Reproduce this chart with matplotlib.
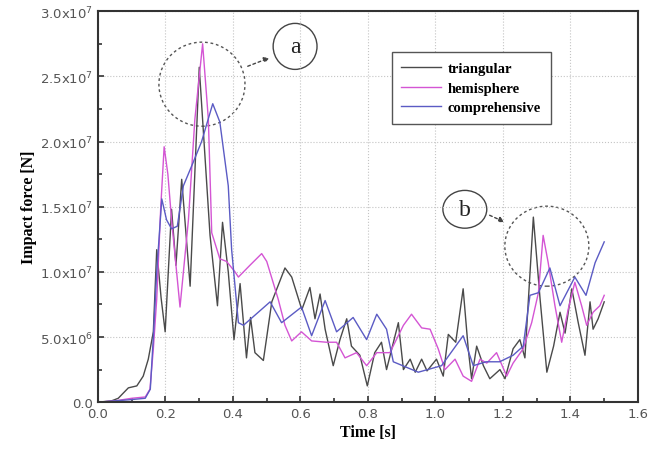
import matplotlib
matplotlib.use("Agg")
import matplotlib.pyplot as plt
from matplotlib.patches import Ellipse
from matplotlib.ticker import MultipleLocator, FuncFormatter

# triangular (gray)
t_tri = [0.0, 0.04, 0.06, 0.09, 0.115, 0.134, 0.149, 0.164, 0.174, 0.187, 0.199, 0.218, 0.231, 0.248,
         0.273, 0.300, 0.332, 0.354, 0.369, 0.386, 0.403, 0.421, 0.44, 0.452, 0.465, 0.49, 0.515,
         0.554, 0.574, 0.604, 0.628, 0.643, 0.658, 0.673, 0.697, 0.717, 0.737, 0.751, 0.776, 0.798,
         0.82, 0.84, 0.855, 0.89, 0.905, 0.925, 0.94, 0.959, 0.975, 1.003, 1.023, 1.038, 1.06, 1.082,
         1.097, 1.107, 1.122, 1.142, 1.161, 1.191, 1.206, 1.23, 1.25, 1.265, 1.29, 1.31, 1.33, 1.35,
         1.369, 1.384, 1.404, 1.423, 1.443, 1.458, 1.467, 1.482, 1.50]
f_tri = [0.0, 0.01, 0.03, 0.11, 0.125, 0.2, 0.33, 0.54, 1.17, 0.8, 0.54, 1.48, 1.05, 1.71,
         0.89, 2.57, 1.28, 0.74, 1.38, 1.0, 0.48, 0.91, 0.34, 0.65, 0.38, 0.32, 0.77,
         1.03, 0.96, 0.71, 0.88, 0.64, 0.83, 0.56, 0.28, 0.48, 0.64, 0.43, 0.36, 0.125,
         0.38, 0.46, 0.25, 0.61, 0.25, 0.33, 0.23, 0.33, 0.24, 0.33, 0.2, 0.52, 0.46, 0.87,
         0.41, 0.18, 0.43, 0.28, 0.18, 0.25, 0.18, 0.41, 0.48, 0.34, 1.42, 0.79, 0.23, 0.43,
         0.69, 0.53, 0.87, 0.61, 0.36, 0.77, 0.56, 0.64, 0.77]

# hemisphere (magenta)
t_hem = [0.0, 0.05, 0.1, 0.14, 0.154, 0.164, 0.174, 0.186, 0.196, 0.207, 0.218, 0.243, 0.268, 0.287,
         0.310, 0.327, 0.337, 0.361, 0.381, 0.406, 0.416, 0.45, 0.485, 0.5, 0.534, 0.554, 0.574,
         0.603, 0.633, 0.677, 0.707, 0.732, 0.766, 0.796, 0.826, 0.865, 0.905, 0.929, 0.959, 0.984,
         1.008, 1.028, 1.058, 1.082, 1.107, 1.132, 1.152, 1.181, 1.211, 1.23, 1.26, 1.285, 1.305,
         1.319, 1.334, 1.354, 1.374, 1.393, 1.413, 1.433, 1.448, 1.467, 1.487, 1.50]
f_hem = [0.0, 0.01, 0.03, 0.04, 0.1, 0.41, 0.79, 1.5, 1.96, 1.75, 1.40, 0.73, 1.40, 2.17,
         2.75, 2.17, 1.30, 1.10, 1.08, 1.0, 0.96, 1.05, 1.14, 1.08, 0.79, 0.59, 0.47,
         0.54, 0.47, 0.46, 0.46, 0.34, 0.38, 0.28, 0.38, 0.38, 0.59, 0.675, 0.57, 0.56,
         0.41, 0.25, 0.33, 0.2, 0.16, 0.33, 0.30, 0.38, 0.2, 0.30, 0.41, 0.61, 0.84,
         1.28, 1.07, 0.74, 0.46, 0.71, 0.92, 0.74, 0.59, 0.69, 0.74, 0.82]

# comprehensive (blue)
t_com = [0.0, 0.05, 0.1, 0.14, 0.155, 0.164, 0.174, 0.189, 0.203, 0.218, 0.235, 0.253, 0.282, 0.307,
         0.340, 0.361, 0.386, 0.396, 0.416, 0.431, 0.51, 0.544, 0.603, 0.633, 0.673, 0.707, 0.756,
         0.796, 0.826, 0.855, 0.875, 0.949, 1.018, 1.082, 1.112, 1.15, 1.19, 1.23, 1.26, 1.28, 1.305,
         1.339, 1.369, 1.413, 1.446, 1.473, 1.50]
f_com = [0.0, 0.01, 0.02, 0.03, 0.1, 0.5, 1.0, 1.56, 1.4, 1.33, 1.35, 1.66, 1.84, 2.0,
         2.29, 2.15, 1.66, 1.17, 0.61, 0.59, 0.77, 0.61, 0.73, 0.51, 0.78, 0.54, 0.65,
         0.48, 0.675, 0.56, 0.31, 0.23, 0.28, 0.51, 0.28, 0.31, 0.31, 0.36, 0.43, 0.82, 0.84,
         1.03, 0.74, 0.96, 0.82, 1.07, 1.23]

labels = ["triangular", "hemisphere", "comprehensive"]
colors = ["#4a4a4a", "#d455d4", "#5b5bc4"]

fig = plt.figure(figsize=(6.49, 4.52), dpi=100)
ax = fig.add_axes([0.151, 0.108, 0.832, 0.865])

for t, f, lab, c in zip([t_tri, t_hem, t_com], [f_tri, f_hem, f_com], labels, colors):
    ax.plot(t, [v * 1e7 for v in f], color=c, lw=1.0, label=lab)

ax.set_xlim(0, 1.6)
ax.set_ylim(0, 3.0e7)
ax.xaxis.set_major_locator(MultipleLocator(0.2))
ax.xaxis.set_minor_locator(MultipleLocator(0.1))
ax.yaxis.set_major_locator(MultipleLocator(0.5e7))
ax.yaxis.set_minor_locator(MultipleLocator(0.25e7))

def yfmt(v, pos):
    if v == 0:
        return "0.0"
    e = 7 if v >= 1e7 else 6
    return r"$\mathregular{%.1fx10^{%d}}$" % (v / 10**e, e)

ax.yaxis.set_major_formatter(FuncFormatter(yfmt))
ax.xaxis.set_major_formatter(FuncFormatter(lambda v, p: "%.1f" % v))
ax.tick_params(which="both", direction="in", colors="#333333", labelcolor="#555555",
               labelsize=9.5, width=1.2)
ax.tick_params(which="major", length=4)
ax.tick_params(which="minor", length=3)
ax.grid(True, which="major", linestyle=":", color="#c4c4c4", lw=0.8)
for s in ax.spines.values():
    s.set_color("#333333")
    s.set_linewidth(1.5)

ax.set_xlabel("Time [s]", family="Liberation Serif", fontweight="bold", fontsize=11.5, labelpad=3)
ax.set_ylabel("Impact force [N]", family="Liberation Serif", fontweight="bold", fontsize=11.5, labelpad=2)

leg = ax.legend(loc="upper left", bbox_to_anchor=(0.544, 0.895), borderaxespad=0,
                prop={"family": "Liberation Serif", "weight": "bold", "size": 10.5},
                handlelength=2.7, fancybox=False, edgecolor="#555555", framealpha=1,
                labelspacing=0.45, borderpad=0.65, handletextpad=0.5)
leg.get_frame().set_linewidth(1.0)

# annotation a
ax.add_patch(Ellipse((0.308, 2.44e7), 0.255, 0.645e7, fill=False, ls=(0, (2, 2)), color="#555555", lw=1))
ax.add_patch(Ellipse((0.584, 2.73e7), 0.13, 0.353e7, fill=False, color="#444444", lw=1))
ax.text(0.584, 2.73e7, "a", ha="center", va="center", family="Liberation Serif", fontsize=17, color="#222222")
ax.annotate("", xy=(0.516, 2.65e7), xytext=(0.436, 2.57e7),
            arrowprops=dict(arrowstyle="-|>", ls=(0, (2, 2)), color="#444444", lw=1, mutation_scale=8))

# annotation b
ax.add_patch(Ellipse((1.330, 1.197e7), 0.249, 0.614e7, fill=False, ls=(0, (2, 2)), color="#555555", lw=1))
ax.add_patch(Ellipse((1.087, 1.48e7), 0.13, 0.29e7, fill=False, color="#444444", lw=1))
ax.text(1.087, 1.48e7, "b", ha="center", va="center", family="Liberation Serif", fontsize=17, color="#222222")
ax.annotate("", xy=(1.212, 1.374e7), xytext=(1.153, 1.443e7),
            arrowprops=dict(arrowstyle="-|>", ls=(0, (2, 2)), color="#444444", lw=1, mutation_scale=8))

fig.savefig("out.png", dpi=100)
